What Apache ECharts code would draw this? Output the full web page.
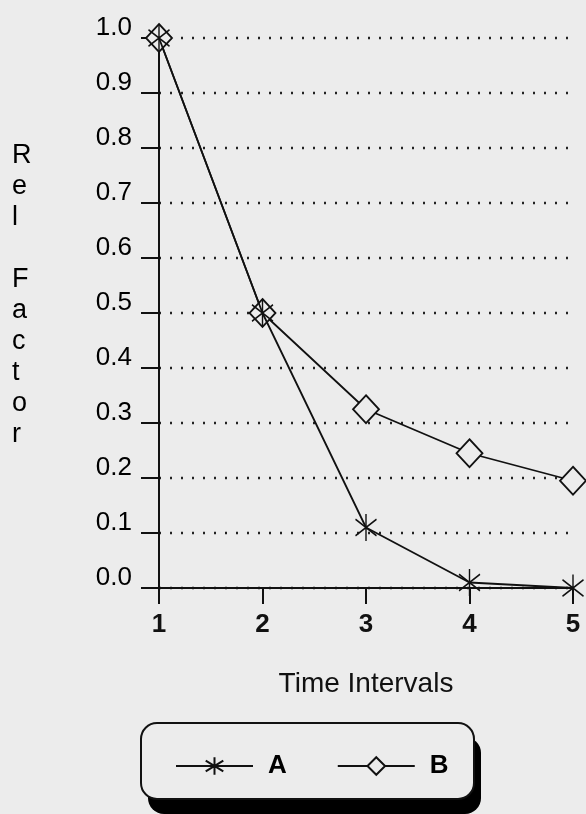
<!DOCTYPE html>
<html>
<head>
<meta charset="utf-8">
<script src="https://cdn.jsdelivr.net/npm/echarts@6/dist/echarts.min.js"></script>
<style>
html,body{margin:0;padding:0;background:#ececec;}
#main{width:586px;height:814px;}
</style>
</head>
<body>
<div id="main"></div>
<script>
var chart = echarts.init(document.getElementById('main'));

var intervals = [1, 2, 3, 4, 5];
var seriesA = [1.0, 0.5, 0.11, 0.01, 0.0];
var seriesB = [1.0, 0.5, 0.325, 0.245, 0.195];
var yTitle = 'Rel Factor';
var xTitle = 'Time Intervals';

var ink = '#111';
var bg = '#ececec';
var font = 'Liberation Sans, Arial, Helvetica, sans-serif';
// asterisk: vertical stroke plus two diagonals
var starPath = 'path://M10,0L10,26M1,5L19,21M1,21L19,5';

function pairs(vals){
  var out = [];
  for (var i = 0; i < intervals.length; i++) out.push([intervals[i], vals[i]]);
  return out;
}

var option = {
  backgroundColor: bg,
  animation: false,
  textStyle: {fontFamily: font, color: ink},
  grid: {left: 159, right: 13, top: 38, bottom: 226},
  xAxis: {
    type: 'value',
    min: 1, max: 5, interval: 1,
    name: xTitle,
    nameLocation: 'middle',
    nameGap: 82,
    nameTextStyle: {fontSize: 28, color: ink, fontFamily: font},
    axisLine: {lineStyle: {color: ink, width: 2}},
    axisTick: {length: 16, lineStyle: {color: ink, width: 2}},
    axisLabel: {fontSize: 26, color: ink, margin: 24, fontWeight: 'bold'},
    splitLine: {show: false}
  },
  yAxis: {
    type: 'value',
    min: 0, max: 1, interval: 0.1,
    axisLine: {show: true, lineStyle: {color: ink, width: 2}},
    axisTick: {show: true, length: 18, lineStyle: {color: ink, width: 2}},
    axisLabel: {
      fontSize: 26, color: '#000', margin: 27,
      verticalAlign: 'bottom', lineHeight: 20,
      formatter: function(v){ return v.toFixed(1); }
    },
    splitLine: {lineStyle: {color: '#222', width: 2.4, type: [2, 9]}}
  },
  legend: {
    left: 170, top: 748,
    itemWidth: 77, itemHeight: 22, itemGap: 50,
    textStyle: {fontSize: 26, color: '#000', fontWeight: 'bold', padding: [0, 0, 0, 10]},
    data: ['A', 'B']
  },
  graphic: [
    {type: 'rect', left: 148, top: 737, z: -2,
     shape: {width: 333, height: 77, r: 16},
     style: {fill: '#000'}},
    {type: 'rect', left: 140, top: 722, z: -1,
     shape: {width: 333, height: 76, r: 16},
     style: {fill: bg, stroke: ink, lineWidth: 2}},
    {type: 'text', left: 12, top: 140,
     style: {text: yTitle.split('').join('\n'), fontSize: 27, lineHeight: 31,
             fill: '#000', font: '27px ' + font, align: 'center'}}
  ],
  series: [
    {
      name: 'A', type: 'line',
      data: pairs(seriesA),
      symbol: starPath, symbolSize: [21, 27],
      lineStyle: {color: ink, width: 1.8},
      itemStyle: {color: 'none', borderColor: ink, borderWidth: 1.6},
      z: 3
    },
    {
      name: 'B', type: 'line',
      data: pairs(seriesB),
      symbol: 'diamond', symbolSize: [26, 28],
      lineStyle: {color: ink, width: 1.8},
      itemStyle: {color: bg, borderColor: ink, borderWidth: 1.8},
      z: 2
    }
  ]
};

chart.setOption(option);
</script>
</body>
</html>
